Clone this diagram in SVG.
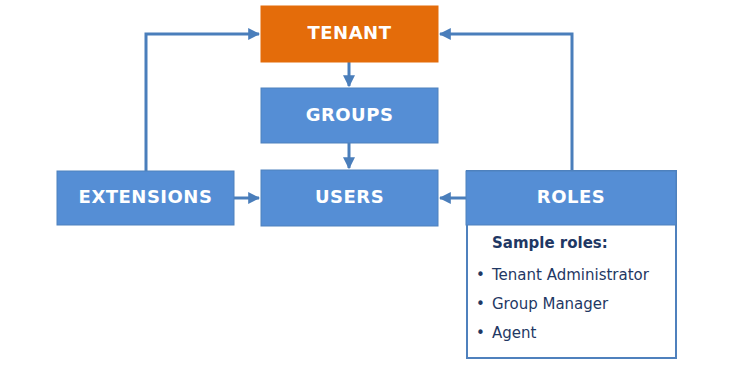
<svg xmlns="http://www.w3.org/2000/svg" width="743" height="390" viewBox="0 0 743 390">
<style>
.box{fill:#558ed5;stroke:#4f81bd;stroke-width:1}
.lbl{font-family:"DejaVu Sans",Verdana,sans-serif;font-weight:bold;font-size:18px;fill:#ffffff;text-anchor:middle;letter-spacing:0.5px}
.con{fill:none;stroke:#4a7ebb;stroke-width:3}
.t{font-family:"DejaVu Sans",Verdana,sans-serif;font-size:15px;fill:#1f3864}
</style>
<defs>
<marker id="ah" viewBox="0 0 10 10" refX="9" refY="5" markerWidth="4" markerHeight="4" orient="auto" markerUnits="strokeWidth">
<path d="M0,0 L10,5 L0,10 z" fill="#4a7ebb"/>
</marker>
</defs>
<rect width="743" height="390" fill="#ffffff"/>
<g id="connectors">
<path class="con" d="M146,171 V34 H259" marker-end="url(#ah)"/>
<path class="con" d="M572,171 V34 H440" marker-end="url(#ah)"/>
<path class="con" d="M349,62 V86" marker-end="url(#ah)"/>
<path class="con" d="M349,143 V168" marker-end="url(#ah)"/>
<path class="con" d="M234,198 H259" marker-end="url(#ah)"/>
<path class="con" d="M466,198 H440" marker-end="url(#ah)"/>
</g>
<g id="tenant">
<rect x="261" y="6" width="177" height="56" fill="#e46c0a" stroke="#e46c0a"/>
<text class="lbl" x="349.5" y="39">TENANT</text>
</g>
<g id="groups">
<rect class="box" x="261" y="88" width="177" height="55"/>
<text class="lbl" x="349.5" y="121">GROUPS</text>
</g>
<g id="users">
<rect class="box" x="261" y="170" width="177" height="56"/>
<text class="lbl" x="349.5" y="203">USERS</text>
</g>
<g id="extensions">
<rect class="box" x="57" y="171" width="177" height="54"/>
<text class="lbl" x="145.5" y="203">EXTENSIONS</text>
</g>
<g id="roles">
<rect x="467" y="171" width="209" height="187" fill="#ffffff" stroke="#4f81bd" stroke-width="2"/>
<rect class="box" x="466" y="171" width="210" height="54"/>
<text class="lbl" x="571" y="203">ROLES</text>
<text class="t" x="492" y="248" font-weight="bold">Sample roles:</text>
<text class="t" x="476" y="280">•</text>
<text class="t" x="492" y="280">Tenant Administrator</text>
<text class="t" x="476" y="309">•</text>
<text class="t" x="492" y="309">Group Manager</text>
<text class="t" x="476" y="338">•</text>
<text class="t" x="492" y="338">Agent</text>
</g>
</svg>
